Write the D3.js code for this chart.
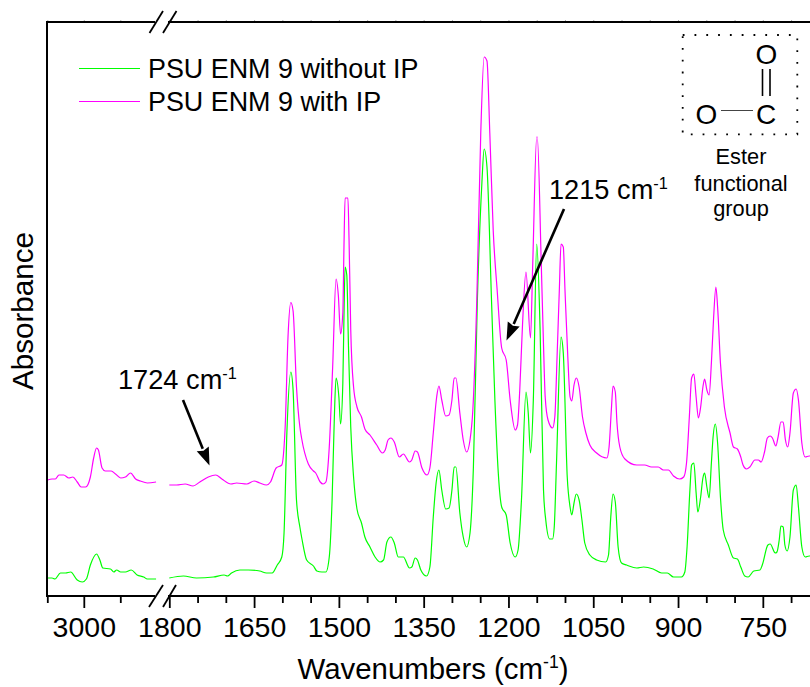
<!DOCTYPE html>
<html><head><meta charset="utf-8">
<style>html,body{margin:0;padding:0;background:#fff;overflow:hidden}svg{display:block}text{font-family:"Liberation Sans",Arial,sans-serif;fill:#000}</style>
<script src="https://cdn.jsdelivr.net/npm/d3@7/dist/d3.min.js"></script>
</head><body><svg id="c" width="810" height="687"></svg>
<script>
const majorTicks=[3000,1800,1650,1500,1350,1200,1050,900,750];
const minorTicks=[3100,2900,1750,1700,1600,1550,1450,1400,1300,1250,1150,1100,1000,950,850,800,700];
const seriesNames=["PSU ENM 9 without IP","PSU ENM 9 with IP"];
const seriesColors=["#00ff00","#ff00ff"];

const withIPHighW=[3099,3087,3078,3068,3055,3041,3030,3018,3007,2995,2982,2973,2965,2960,2950,2941,2925,2913,2899,2886,2872,2858,2845,2826,2802];
const withIPHighA=[116,117,117,121,121,118,119,114,109,109,119,138,148,146,128,125,125,122,118,119,123,117,115,113,114];
const withoutIPHighW=[3099,3087,3079,3064,3050,3036,3018,3004,2993,2982,2965,2956,2948,2927,2918,2910,2899,2886,2870,2854,2836,2826,2802];
const withoutIPHighA=[18,18,17,23,23,24,16,14,17,31,42,36,28,27,24,26,24,24,26,21,19,17,17];

const withIPLowW=[1800,1787,1772,1758,1746,1731,1718,1707,1691,1681,1663,1650,1640,1628,1621,1611,1601,1597,1595,1590,1585,1581,1575,1569,1566,1554,1545,1541,1533,1528,1523,1517,1511,1505,1501,1497,1493,1491,1489,1484,1482,1479,1474,1468,1460,1454,1445,1433,1423,1418,1413,1408,1402,1393,1386,1375,1371,1365,1361,1353,1344,1339,1333,1327,1323,1318,1311,1305,1300,1296,1293,1286,1280,1274,1268,1263,1256,1249,1243,1238,1233,1227,1220,1212,1204,1197,1188,1184,1180,1175,1169,1161,1157,1150,1149,1142,1138,1135,1130,1122,1118,1114,1110,1107,1103,1100,1095,1091,1088,1084,1080,1075,1069,1063,1056,1044,1026,1022,1018,1015,1011,1008,1003,994,973,959,947,935,926,917,908,897,890,885,880,876,872,868,864,860,856,853,849,845,841,837,833,830,825,818,808,802,795,789,785,779,773,764,758,753,747,742,737,733,727,723,718,714,710,706,702,696,691,687,681,675,668,660];
const withIPLowA=[111,111,112,110,114,119,121,117,112,113,112,115,113,111,114,128,131,149,169,259,293.5,285,209,169,158,132,125,123,114,112,114,149,229,317,301,262,283,349,398,398,356,266,209,189,179,167,161,151,143,146,156,158,154,139,142,134,136,145,144,128,121,128,163,199,210,196,180,181,196,218,218,183,156,144,156,186,296,463,539,535,463,366,306,248,236,196,166,171,206,273,324,258,333,459,459,333,251,199,176,168,179,239,306,352,349,306,239,199,195,211,218,209,179,163,151,143,138,149,186,210,204,173,149,137,131,131,129,129,126,126,120,117,119,133,179,218,222,199,178,189,209,217,206,201,233,279,309,289,233,189,163,149,147,139,131,127,129,136,136,134,144,158,160,158,150,159,174,174,156,149,163,203,207,196,153,139,140,140];

const withoutIPLowW=[1800,1775,1752,1722,1703,1697,1690,1675,1660,1640,1628,1618,1609,1601,1597,1592,1585,1581,1575,1569,1565,1557,1545,1539,1530,1523,1517,1512,1508,1505,1500,1497,1493,1491,1489,1486,1483,1479,1474,1468,1460,1454,1445,1436,1427,1421,1415,1408,1402,1395,1386,1375,1371,1365,1361,1355,1345,1339,1333,1328,1323,1318,1311,1305,1300,1296,1293,1286,1280,1274,1268,1262,1255,1247,1243,1238,1230,1224,1218,1212,1204,1197,1188,1183,1177,1169,1165,1161,1156,1150,1144,1138,1134,1127,1122,1119,1115,1107,1103,1096,1091,1088,1084,1080,1075,1070,1065,1056,1044,1028,1023,1019,1015,1011,1006,1000,991,973,961,944,929,919,908,894,888,884,879,876,872,868,865,860,856,853,849,845,841,838,834,830,825,820,811,802,795,789,782,776,766,755,751,741,737,728,725,721,718,714,711,707,702,696,691,687,681,675,668,660];
const withoutIPLowA=[18,20,18,19,21,20,23,26,26,25,23,23,31,39,63,163,224,206,96,69,56,36,30,25,24,24,39,96,179,218,199,172,213,279,329,321,249,169,119,87,73,59,49,39,34,36,54,59,53,39,39,28,29,38,36,26,20,29,79,113,126,106,87,88,106,129,129,83,59,49,63,129,296,413,447,429,296,196,123,89,81,53,39,46,96,204,183,143,196,352,266,106,76,57,57,69,133,259,243,119,89,81,93,102,96,76,53,41,36,34,41,79,102,94,49,33,31,28,29,27,23,23,19,19,24,49,106,131,133,103,84,99,118,123,109,98,133,159,172,153,99,66,51,38,37,29,20,19,25,26,31,51,52,43,44,56,70,69,51,45,59,106,111,89,49,39,40,40];

const svg=d3.select("#c");
const x=d3.scaleLinear().domain([3100,2800,1800,660]).range([47.3,156.8,169.3,813.7]);
const y=d3.scaleLinear().domain([0,574]).range([596,22]);
const line=d3.line().x(d=>x(d[0])).y(d=>y(d[1])).curve(d3.curveMonotoneX);
const pair=(w,a)=>d3.zip(w,a);
const plot=[[withoutIPLowW,withoutIPLowA,0],[withoutIPHighW,withoutIPHighA,0],[withIPLowW,withIPLowA,1],[withIPHighW,withIPHighA,1]];
plot.forEach(([w,a,i])=>svg.append("path").attr("d",line(pair(w,a))).attr("fill","none").attr("stroke",seriesColors[i]).attr("stroke-width",1.2).attr("stroke-linejoin","round"));

const bottom=svg.append("g").attr("transform","translate(0,596)");
const minorG=bottom.append("g").call(d3.axisBottom(x).tickValues(minorTicks).tickSize(7).tickFormat(""));
const majorG=bottom.append("g").call(d3.axisBottom(x).tickValues(majorTicks).tickSize(12).tickPadding(8.8).tickFormat(d3.format("d")));
[minorG,majorG].forEach(g=>{g.select(".domain").remove();g.selectAll("line").attr("stroke","#000").attr("stroke-width",1.8);});
majorG.selectAll("text").attr("font-size",28.5).attr("fill","#000").style("font-family",'"Liberation Sans",Arial,sans-serif');
const topTicks=svg.append("g").attr("transform","translate(0,22)");
topTicks.call(d3.axisTop(x).tickValues(majorTicks.concat(minorTicks)).tickSize(2).tickFormat(""));
topTicks.select(".domain").remove();topTicks.selectAll("line").attr("stroke","#aaa").attr("stroke-width",1);

const frame=svg.append("g").attr("stroke","#000").attr("stroke-width",2).attr("fill","none");
frame.append("path").attr("d","M155,22H47V596H155");
frame.append("path").attr("d","M168,22H810M168,596H810");
const cuts=svg.append("g").attr("stroke","#000").attr("stroke-width",1.8);
[[149.5,33,163,11],[163,33,176.5,11],[149,607,163,585],[163,607,176,585]].forEach(c=>cuts.append("line").attr("x1",c[0]).attr("y1",c[1]).attr("x2",c[2]).attr("y2",c[3]));

function label(xp,yp,size,anchor,parts,rot){
  const t=svg.append("text").attr("font-size",size).attr("text-anchor",anchor).attr("transform",`translate(${xp},${yp})`+(rot?` rotate(${rot})`:""));
  parts.forEach(p=>{const s=t.append("tspan").text(p[0]);if(p[1]){s.attr("font-size",size*0.6).attr("dy",-size*0.38);}else if(p[2]){s.attr("dy",size*0.38);}});
  return t;
}
label(33,311,29.6,"middle",[["Absorbance"]],-90);
label(433,679,29.4,"middle",[["Wavenumbers (cm"],["-1",1],[")",0,1]]);
seriesNames.forEach((n,i)=>{
  const ly=68+i*33;
  svg.append("line").attr("x1",79).attr("x2",140).attr("y1",ly+0.5).attr("y2",ly+0.5).attr("stroke",seriesColors[i]).attr("stroke-width",1.2);
  label(148,ly+10,26.9,"start",[[n]]);
});
label(118,389,27.2,"start",[["1724 cm"],["-1",1]]);
label(549,199,27.2,"start",[["1215 cm"],["-1",1]]);
function arrow(x1,y1,x2,y2){
  const a=Math.atan2(y2-y1,x2-x1),L=18,W=6.5;
  const bx=x2-L*Math.cos(a),by=y2-L*Math.sin(a);
  svg.append("line").attr("x1",x1).attr("y1",y1).attr("x2",bx).attr("y2",by).attr("stroke","#000").attr("stroke-width",2.6);
  const nx=-Math.sin(a)*W,ny=Math.cos(a)*W,mx=x2-(L-2)*Math.cos(a),my=y2-(L-2)*Math.sin(a);
  svg.append("path").attr("fill","#000").attr("d",`M${x2},${y2}L${bx+nx},${by+ny}L${mx},${my}L${bx-nx},${by-ny}Z`);
}
arrow(183,400,209.5,465.5);
arrow(564,209,506.5,340.5);
svg.append("rect").attr("x",682.7).attr("y",35).attr("width",114.6).attr("height",99.3).attr("fill","none").attr("stroke","#000").attr("stroke-width",1.8).attr("stroke-dasharray","1.8 10");
[["O",766.5,63.5],["O",706.5,123.5],["C",766,123.5]].forEach(a=>label(a[1],a[2],28,"middle",[[a[0]]]));
const b=svg.append("g").attr("stroke","#000");
b.append("line").attr("x1",762.5).attr("x2",762.5).attr("y1",69).attr("y2",96).attr("stroke-width",1.6);
b.append("line").attr("x1",770).attr("x2",770).attr("y1",69).attr("y2",96).attr("stroke-width",1.6);
b.append("line").attr("x1",721).attr("x2",753).attr("y1",110.5).attr("y2",110.5).attr("stroke-width",1).attr("stroke","#444");
[["Ester",164],["functional",191],["group",216]].forEach(a=>label(741,a[1],21.8,"middle",[[a[0]]]));
</script></body></html>
